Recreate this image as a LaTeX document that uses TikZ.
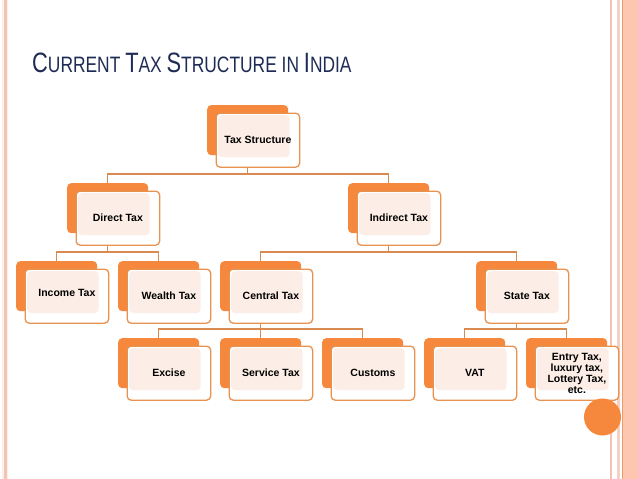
\documentclass[tikz,border=0pt]{standalone}
\usepackage{fontspec}
\setmainfont{Liberation Sans}
\definecolor{backor}{HTML}{F5883C}
\definecolor{frontor}{HTML}{E9914F}
\definecolor{connor}{HTML}{D88A50}
\definecolor{peach}{HTML}{FCEEE6}
\definecolor{titleblue}{HTML}{1E2B55}
\definecolor{stripe}{HTML}{F3C4B4}
\definecolor{stripepale}{HTML}{FDF0EA}
\definecolor{salmon}{HTML}{FCC6B1}
\definecolor{darkstripe}{HTML}{EC9A6E}
\tikzset{
  backbox/.style={anchor=north west, fill=backor, rounded corners=4pt,
    minimum width=81pt, minimum height=50pt, inner sep=0pt},
  frontbox/.style={anchor=north west, fill=white, draw=frontor, line width=1.3pt,
    rounded corners=4pt, minimum width=83.5pt, minimum height=54pt, inner sep=0pt,
    align=center, font=\fontsize{10.5pt}{11pt}\selectfont\bfseries,
    path picture={\fill[peach] ([xshift=2pt,yshift=-2pt]path picture bounding box.north west)
      rectangle ([xshift=-10pt,yshift=10pt]path picture bounding box.south east);}},
  conn/.style={draw=connor, line width=1.5pt}
}
\newcommand\taxbox[4]{%
  \node[backbox] (#1b) at (#2,#3) {};
  \node[frontbox] (#1) at (#2+8.5,#3+7.5) {#4};}
\newcommand\tlink[3]{% parent, child, level coordinate
  \draw[conn] (#1b.south |- #1.south) -- (#1b.south |- #3) -| (#2b.north);}
\begin{document}
\begin{tikzpicture}[x=1pt,y=-1pt]
\useasboundingbox (0,0) rectangle (638,479);
% border stripes
\fill[stripepale] (2,0) rectangle (8,479);
\fill[stripe] (4,0) rectangle (6.5,479);
\fill[stripe] (609.5,0) rectangle (612,479);
\fill[stripe!80] (617,0) rectangle (620,479);
\fill[salmon] (623,0) rectangle (638,479);
\fill[darkstripe] (621.5,0) rectangle (623,479);
% title
\node[anchor=base west, inner sep=0pt, text=titleblue] (title) at (32,72)
  {\scalebox{0.78}[1]{\fontsize{28pt}{30pt}\selectfont C\fontsize{22.3pt}{24pt}\selectfont URRENT
   \fontsize{28pt}{30pt}\selectfont T\fontsize{22.3pt}{24pt}\selectfont AX
   \fontsize{28pt}{30pt}\selectfont S\fontsize{22.3pt}{24pt}\selectfont TRUCTURE IN
   \fontsize{28pt}{30pt}\selectfont I\fontsize{22.3pt}{24pt}\selectfont NDIA}};
% level coordinates
\coordinate (L1) at (0,174);
\coordinate (L2) at (0,252);
\coordinate (L3) at (0,329);
% boxes
\taxbox{ts}{207}{105}{Tax Structure}
\taxbox{dt}{67}{183}{Direct Tax}
\taxbox{it}{348}{183}{Indirect Tax}
\taxbox{inc}{16}{261}{\raisebox{6pt}{Income Tax}}
\taxbox{wt}{118}{261}{Wealth Tax}
\taxbox{ct}{220}{261}{Central Tax}
\taxbox{st}{476}{261}{State Tax}
\taxbox{ex}{118}{338}{Excise}
\taxbox{sv}{220}{338}{Service Tax}
\taxbox{cu}{322}{338}{Customs}
\taxbox{vat}{424}{338}{VAT}
\taxbox{en}{526}{338}{Entry Tax,\\luxury tax,\\Lottery Tax,\\etc.}
% connectors
\tlink{ts}{dt}{L1}
\tlink{ts}{it}{L1}
\tlink{dt}{inc}{L2}
\tlink{dt}{wt}{L2}
\tlink{it}{ct}{L2}
\tlink{it}{st}{L2}
\tlink{ct}{ex}{L3}
\tlink{ct}{sv}{L3}
\tlink{ct}{cu}{L3}
\tlink{st}{vat}{L3}
\tlink{st}{en}{L3}
% decorative circle
\node[circle, fill=backor, minimum size=37pt, inner sep=0pt] (dot) at (602.5,417) {};
\end{tikzpicture}
\end{document}
